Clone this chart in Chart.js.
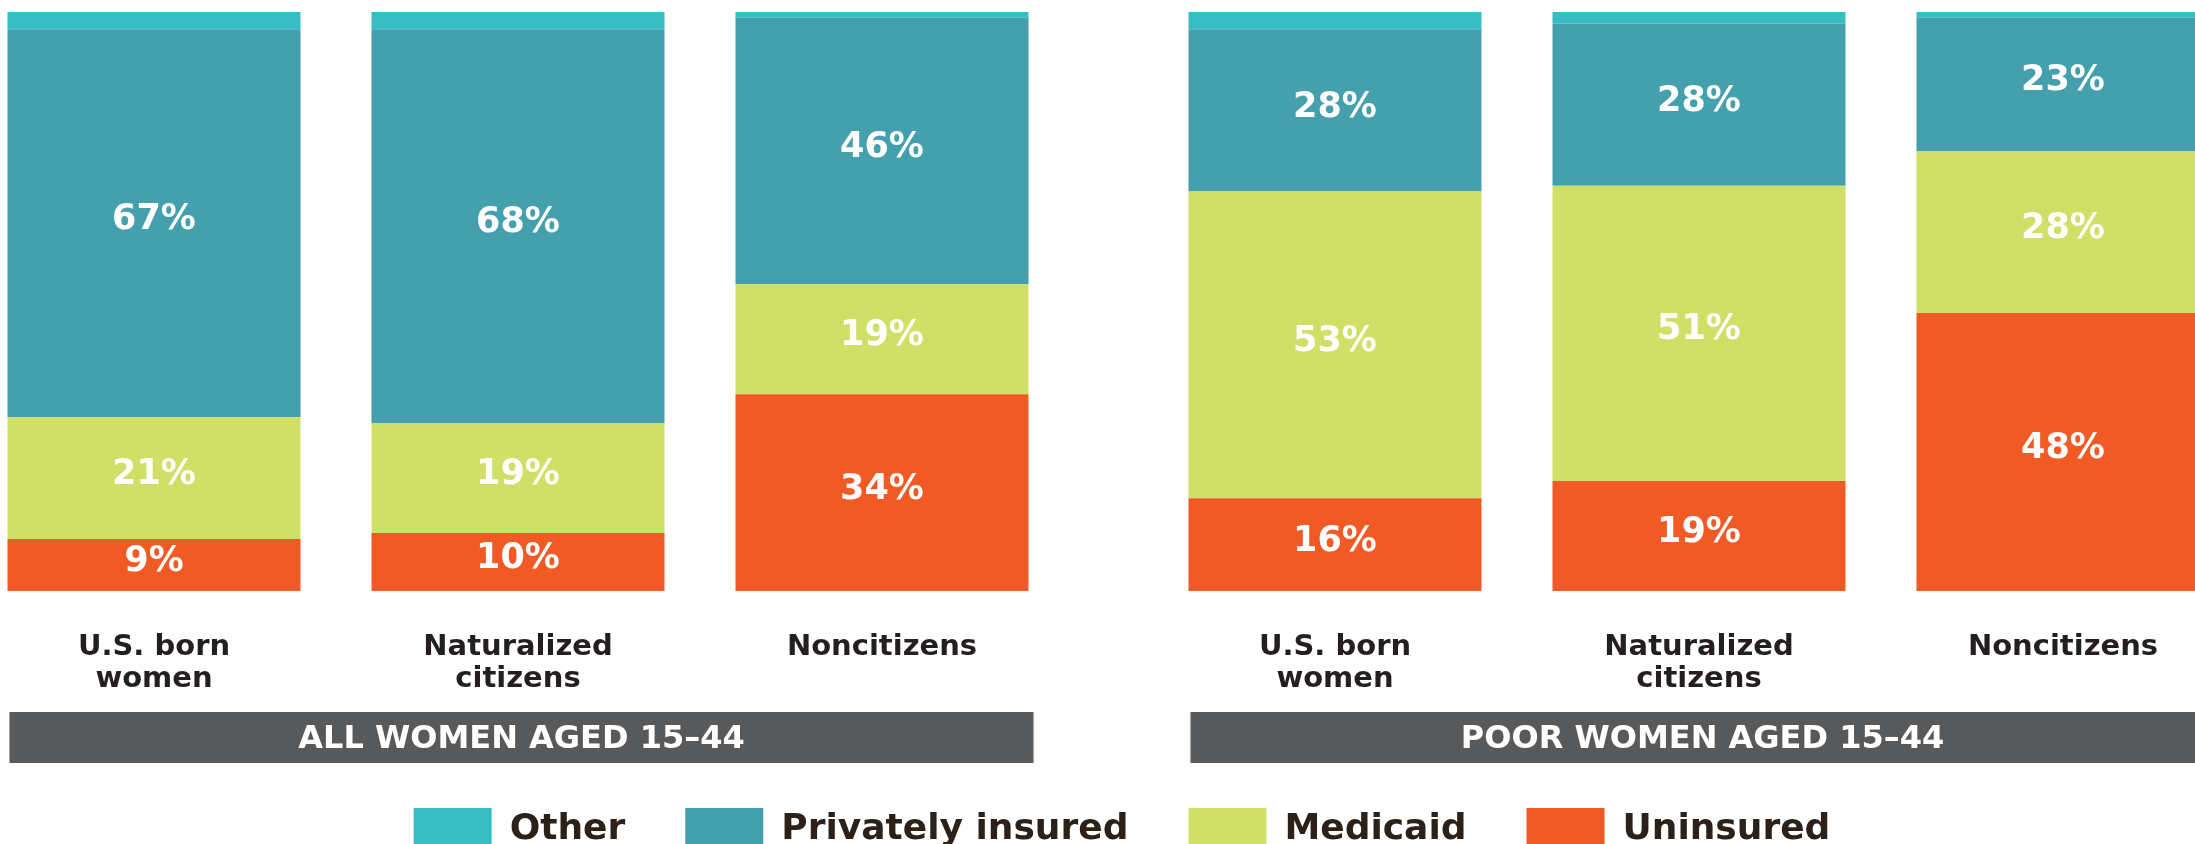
<!DOCTYPE html>
<html>
<head>
<meta charset="utf-8">
<script src="https://cdn.jsdelivr.net/npm/chart.js@4/dist/chart.umd.min.js"></script>
<style>
  html, body { margin: 0; padding: 0; background: #ffffff; width: 2195px; height: 844px; overflow: hidden; }
  #wrap { position: relative; width: 2195px; height: 844px; overflow: hidden; }
  #chart { position: absolute; left: -28px; top: 0; }
</style>
</head>
<body>
<div id="wrap"><canvas id="chart" width="2300" height="862"></canvas></div>
<script>
// ---- data ----
const categories = [
  ["U.S. born", "women"], ["Naturalized", "citizens"], ["Noncitizens"],
  ["U.S. born", "women"], ["Naturalized", "citizens"], ["Noncitizens"]
];
const groupTitles = ["ALL WOMEN AGED 15\u201344", "POOR WOMEN AGED 15\u201344"];
const uninsured        = [9, 10, 34, 16, 19, 48];
const medicaid         = [21, 19, 19, 53, 51, 28];
const privatelyInsured = [67, 68, 46, 28, 28, 23];
const other            = [3, 3, 1, 3, 2, 1];

// ---- category scale with a gap between groups ----
class GroupedCategoryScale extends Chart.CategoryScale {
  getPixelForValue(value) {
    if (typeof value !== 'number') value = this.parse(value);
    if (value === null || isNaN(value)) return NaN;
    const n = this.getLabels().length;
    const per = this.options.groupSize || n;
    const gap = this.options.groupGap || 0;
    const groups = Math.ceil(n / per);
    const step = (this.width - gap * (groups - 1)) / n;
    return this.left + step * (value + 0.5) + Math.floor(value / per) * gap;
  }
}
GroupedCategoryScale.id = 'groupedCategory';
GroupedCategoryScale.defaults = Chart.CategoryScale.defaults;
Chart.register(GroupedCategoryScale);

const FONT = '"DejaVu Sans", "Liberation Sans", sans-serif';

const segmentLabels = {
  id: 'segmentLabels',
  afterDatasetsDraw(chart, args, opts) {
    const ctx = chart.ctx;
    ctx.save();
    ctx.font = 'bold ' + opts.size + 'px ' + FONT;
    ctx.fillStyle = opts.color;
    ctx.textAlign = 'center';
    ctx.textBaseline = 'middle';
    chart.data.datasets.forEach((ds, di) => {
      if (!ds.showValues) return;
      chart.getDatasetMeta(di).data.forEach((el, i) => {
        ctx.fillText(ds.data[i] + '%', el.x, (el.y + el.base) / 2 + opts.offset);
      });
    });
    ctx.restore();
  }
};

const groupBands = {
  id: 'groupBands',
  afterDraw(chart, args, opts) {
    const ctx = chart.ctx;
    const meta = chart.getDatasetMeta(0);
    const xs = chart.scales.x;
    const size = xs.options.groupSize;
    ctx.save();
    opts.titles.forEach((title, g) => {
      const first = meta.data[g * size];
      const last = meta.data[g * size + size - 1];
      const left = first.x - first.width / 2 + opts.insetLeft;
      const right = last.x + last.width / 2 + opts.extendRight;
      const top = xs.top + opts.offset;
      ctx.fillStyle = opts.color;
      ctx.fillRect(left, top, right - left, opts.height);
      ctx.fillStyle = opts.textColor;
      ctx.font = 'bold ' + opts.size + 'px ' + FONT;
      ctx.textAlign = 'center';
      ctx.textBaseline = 'middle';
      ctx.fillText(title, (left + right) / 2, top + opts.height / 2 + 2);
    });
    ctx.restore();
  }
};

new Chart(document.getElementById('chart'), {
  type: 'bar',
  data: {
    labels: categories,
    datasets: [
      { label: 'Uninsured', data: uninsured, backgroundColor: '#f15a25', borderWidth: 0, showValues: true },
      { label: 'Medicaid', data: medicaid, backgroundColor: '#d0e067', borderWidth: 0, showValues: true },
      { label: 'Privately insured', data: privatelyInsured, backgroundColor: '#45a0ae', borderWidth: 0, showValues: true },
      { label: 'Other', data: other, backgroundColor: '#36bec2', borderWidth: 0, showValues: false }
    ]
  },
  options: {
    responsive: false,
    animation: false,
    events: [],
    layout: { padding: { top: 12, left: 0, right: 0, bottom: 0 } },
    datasets: { bar: { categoryPercentage: 0.805, barPercentage: 1 } },
    scales: {
      x: {
        type: 'groupedCategory',
        stacked: true,
        groupSize: 3,
        groupGap: 89,
        grid: { display: false },
        border: { display: false },
        ticks: {
          autoSkip: false, maxRotation: 0, minRotation: 0,
          padding: 32,
          color: '#231f20',
          font: { family: FONT, weight: 'bold', size: 29, lineHeight: 1.12 }
        },
        afterFit: (s) => { s.height = 157; }
      },
      y: {
        stacked: true, min: 0, max: 100, position: 'right',
        grid: { display: false }, border: { display: false },
        ticks: { display: false },
        afterFit: (s) => { s.width = 27; }
      }
    },
    plugins: {
      tooltip: { enabled: false },
      legend: {
        position: 'bottom',
        reverse: true,
        labels: {
          boxWidth: 78, boxHeight: 44, padding: 60,
          color: '#2b2118',
          font: { family: FONT, weight: 'bold', size: 36 }
        }
      },
      segmentLabels: { size: 35, color: '#ffffff', offset: -3 },
      groupBands: {
        titles: groupTitles, color: '#58595b', textColor: '#ffffff',
        offset: 121, height: 51, size: 32, insetLeft: 2, extendRight: 5
      }
    }
  },
  plugins: [segmentLabels, groupBands]
});
</script>
</body>
</html>
